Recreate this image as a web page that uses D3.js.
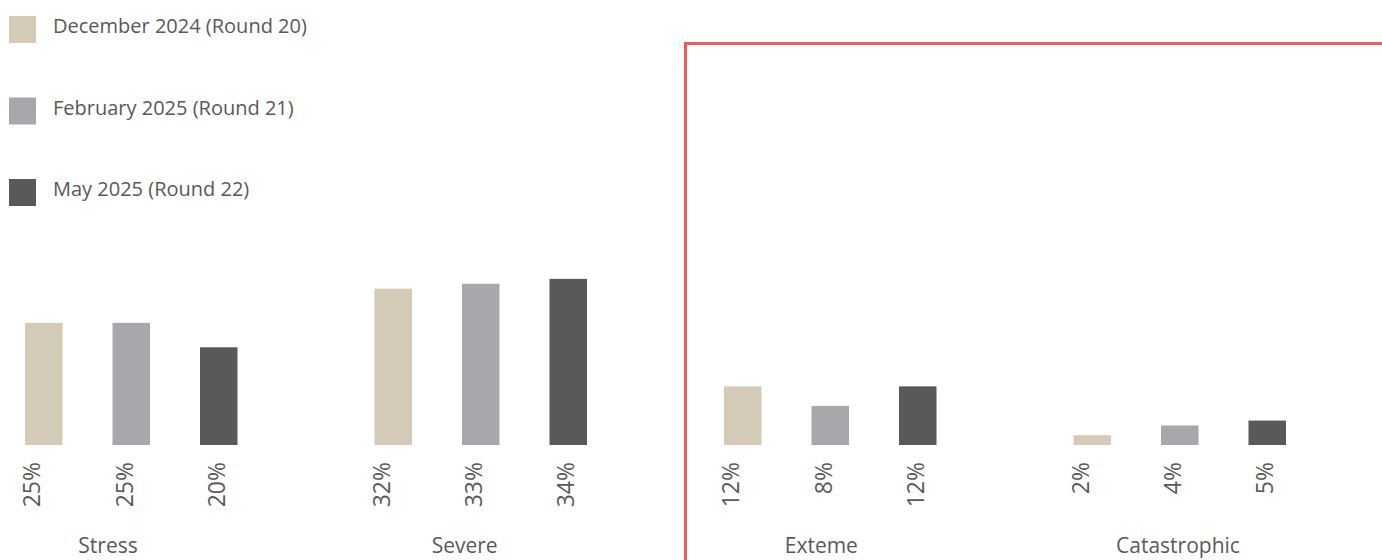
<!DOCTYPE html>
<html>
<head>
<meta charset="utf-8">
<script src="https://cdn.jsdelivr.net/npm/d3@7"></script>
<style>
  html, body { margin: 0; padding: 0; background: #ffffff; }
  svg { display: block; }
  text { font-family: "Open Sans", "Noto Sans", sans-serif; fill: #595959; }
</style>
</head>
<body>
<svg id="chart" width="1382" height="560"></svg>
<script>
// ---- data ----
const categories = ["Stress", "Severe", "Exteme", "Catastrophic"];
const seriesNames = ["December 2024 (Round 20)", "February 2025 (Round 21)", "May 2025 (Round 22)"];
const dec2024 = [25, 32, 12, 2];
const feb2025 = [25, 33, 8, 4];
const may2025 = [20, 34, 12, 5];
const seriesColors = ["#D3CBB8", "#A7A8AC", "#58595B"];

const seriesValues = [dec2024, feb2025, may2025];

// ---- layout ----
const svg = d3.select("#chart");
const W = 1382, H = 560;

const x0 = d3.scaleBand().domain(categories).range([25, 25 + 4 * 349.5]).padding(0);
const x1 = d3.scaleBand().domain(d3.range(seriesNames.length)).range([0, 212.5])
  .paddingInner(50 / 87.5).paddingOuter(0);
const xl = d3.scalePoint().domain(d3.range(seriesNames.length)).range([-92.3, 92.3]);
const xc = d3.scalePoint().domain(categories).range([108, 1178]);
const y = d3.scaleLinear().domain([0, 35]).range([445, 274]);

// red frame
svg.append("path")
  .attr("d", `M685.5,${H} L685.5,43.5 L${W},43.5`)
  .attr("fill", "none")
  .attr("stroke", "#F05A5A")
  .attr("stroke-width", 3);

// bars
const rows = [];
categories.forEach((c, ci) => {
  seriesValues.forEach((vals, si) => rows.push({ cat: c, s: si, v: vals[ci] }));
});

svg.append("g").selectAll("rect").data(rows).join("rect")
  .attr("x", d => x0(d.cat) + x1(d.s))
  .attr("width", x1.bandwidth())
  .attr("y", d => y(d.v))
  .attr("height", d => y(0) - y(d.v))
  .attr("fill", d => seriesColors[d.s]);

// value labels (rotated)
svg.append("g").selectAll("text").data(rows).join("text")
  .attr("transform", d => {
    const cx = x0(d.cat) + 212.5 / 2 - 7 + xl(d.s);
    return `translate(${cx},462) rotate(-90)`;
  })
  .attr("text-anchor", "end")
  .attr("dy", "0.36em")
  .style("font-size", "23px")
  .text(d => d.v + "%");

// category labels
svg.append("g").selectAll("text").data(categories).join("text")
  .attr("x", d => xc(d))
  .attr("y", 553)
  .attr("text-anchor", "middle")
  .style("font-size", "21px")
  .text(d => d);

// legend
const lg = svg.append("g").selectAll("g").data(seriesNames).join("g")
  .attr("transform", (d, i) => `translate(9,${16 + i * 81.5})`);
lg.append("rect").attr("width", 27).attr("height", 27)
  .attr("fill", (d, i) => seriesColors[i]);
lg.append("text").attr("x", 44).attr("y", 17).style("font-size", "20px").text(d => d);
</script>
</body>
</html>
